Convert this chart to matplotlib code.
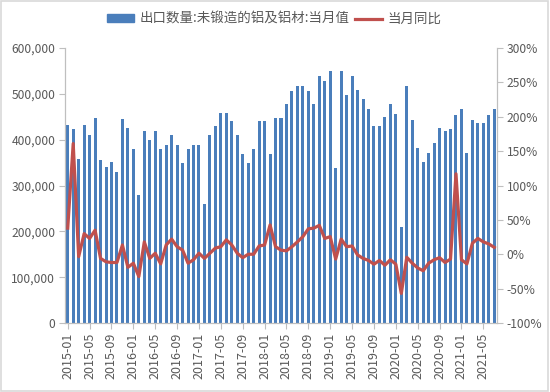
import matplotlib
matplotlib.use("Agg")
import matplotlib.pyplot as plt
from matplotlib.patches import Rectangle
from matplotlib.ticker import FuncFormatter
import numpy as np

plt.rcParams['font.family'] = ['Noto Sans CJK SC', 'DejaVu Sans']

months = [f"{y}-{m:02d}" for y in range(2015, 2022) for m in range(1, 13)][:79]

export_qty = [431000, 424000, 358000, 433000, 411000, 447000, 356000, 341000, 352000, 329000, 445000, 425000,
              380000, 279000, 419000, 400000, 419000, 380000, 389000, 410000, 389000, 349000, 380000, 389000,
              389000, 260000, 410000, 430000, 459000, 459000, 440000, 410000, 368000, 349000, 380000, 440000,
              440000, 368000, 448000, 448000, 478000, 507000, 517000, 517000, 507000, 478000, 539000, 529000,
              549000, 338000, 549000, 498000, 539000, 508000, 488000, 468000, 429000, 429000, 449000, 478000,
              456000, 210000, 518000, 442000, 382000, 352000, 372000, 393000, 425000, 418000, 423000, 454000,
              468000, 372000, 443000, 436000, 436000, 453000, 468000]

yoy = [38, 161, -3.5, 30, 23, 35, -6, -11, -12, -12, 13.5, -19,
       -13, -32.5, 18, -6, 1.5, -14, 13.5, 22, 11, 6, -13, -8,
       1.5, -6, 1.5, 9, 11, 21, 13.5, 1.5, -5, 0, 0, 12,
       13.5, 42.6, 11, 6, 5, 11, 18, 25.6, 37, 38, 42, 23,
       25.6, -7, 22, 11, 12, -1, -6, -9, -14.5, -9, -16, -8,
       -14.5, -57, -4.4, -13, -20, -24, -13, -8, -5, -12, -7, 117,
       -8, -14, 16, 23, 18, 15, 10]

bar_color = '#4A7EBB'
line_color = '#C0504D'
text_color = '#595959'
axis_color = '#BFBFBF'

fig = plt.figure(figsize=(5.5, 3.92), dpi=100)
ax = fig.add_axes([65/550, 1-323/392, (497-65)/550, (323-48)/392])
x = np.arange(len(months))
ax.bar(x, export_qty, width=0.55, color=bar_color, zorder=2)
ax.set_xlim(-0.5, len(months) - 0.5)
ax.set_ylim(0, 600000)
ax.set_yticks(np.arange(0, 600001, 100000))
ax.yaxis.set_major_formatter(FuncFormatter(lambda v, p: f"{int(v):,}"))

ax2 = ax.twinx()
line, = ax2.plot(x, yoy, color=line_color, linewidth=2.3, zorder=3)
ax2.set_ylim(-100, 300)
ax2.set_yticks(np.arange(-100, 301, 50))
ax2.yaxis.set_major_formatter(FuncFormatter(lambda v, p: f"{int(v)}%"))

tick_idx = list(range(0, len(months), 4))
ax.set_xticks(tick_idx)
ax.set_xticklabels([months[i] for i in tick_idx], rotation=90, fontsize=9, color=text_color)

for a in (ax, ax2):
    for s in a.spines.values():
        s.set_color(axis_color)
        s.set_linewidth(0.8)
    a.spines['top'].set_visible(False)
    a.tick_params(axis='both', colors=axis_color, labelcolor=text_color, length=4, width=0.8)
    a.tick_params(axis='y', labelsize=8.7, pad=3)
ax.tick_params(axis='x', labelsize=9, pad=3)

handles = [Rectangle((0, 0), 1, 1, color=bar_color), line]
labels = ['出口数量:未锻造的铝及铝材:当月值', '当月同比']
fig.legend(handles, labels, loc='center', bbox_to_anchor=(274/550, 1-19/392), ncol=2, frameon=False,
           fontsize=9.7, handlelength=2.0, handleheight=0.5, columnspacing=0.4, handletextpad=0.4,
           labelcolor=text_color)

fig.patches.append(Rectangle((0.002, 0.003), 0.994, 0.994, transform=fig.transFigure,
                             fill=False, edgecolor='#D9D9D9', linewidth=1.2))

fig.savefig('out.png', dpi=100)
